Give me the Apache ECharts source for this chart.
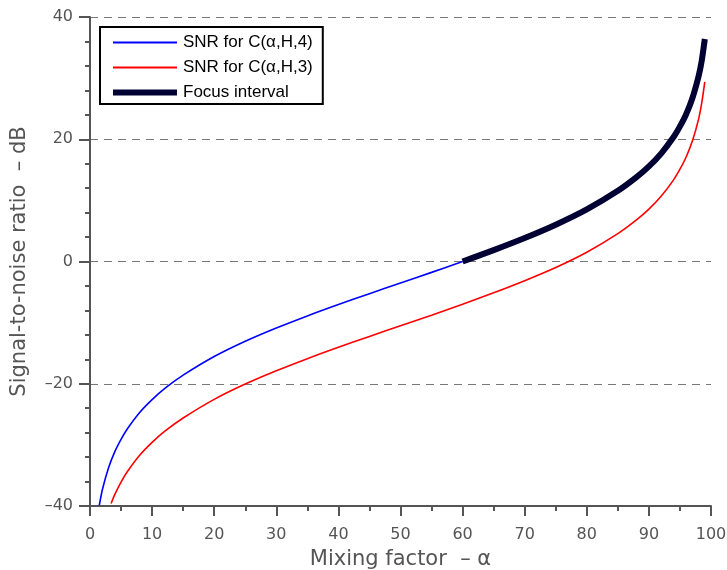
<!DOCTYPE html>
<html>
<head>
<meta charset="utf-8">
<script src="https://cdn.jsdelivr.net/npm/echarts@6/dist/echarts.min.js"></script>
<style>html,body{margin:0;padding:0;background:#fff}#c{width:727px;height:570px}</style>
</head>
<body>
<div id="c"></div>
<script>
// Mixing factor (alpha, %) sample positions and SNR values (dB)
const alphaBlue = [1.5, 2, 3, 4, 5, 6, 8, 10, 12, 15, 20, 25, 30, 35, 40, 45, 50, 55, 60];
const snrBlue   = [-39.9, -37.3, -33.7, -31.1, -29.1, -27.4, -24.7, -22.6, -20.8, -18.6, -15.55, -13.05, -10.88, -8.9, -7.04, -5.26, -3.52, -1.78, 0.0];

const alphaRed = [3.4, 4, 5, 6, 8, 10, 12, 15, 20, 25, 30, 35, 40, 45, 50, 55, 60, 65, 70, 75, 80, 85, 88, 90, 92, 94, 95, 96, 97, 98, 98.5, 99];
const snrRed   = [-39.6, -38.1, -36.1, -34.4, -31.7, -29.6, -27.8, -25.6, -22.55, -20.05, -17.88, -15.9, -14.04, -12.26, -10.52, -8.78, -7.0, -5.12, -3.14, -0.98, 1.52, 4.56, 6.8, 8.56, 10.7, 13.4, 15.1, 17.1, 19.7, 23.3, 25.9, 29.4];

const alphaFocus = [60, 65, 70, 75, 80, 85, 88, 90, 92, 94, 95, 96, 97, 98, 98.5, 99];
const snrFocus   = [0.0, 1.86, 3.84, 6.02, 8.52, 11.56, 13.8, 15.56, 17.7, 20.4, 22.1, 24.1, 26.7, 30.3, 32.8, 36.4];

const seriesNames = ['SNR for C(\u03b1,H,4)', 'SNR for C(\u03b1,H,3)', 'Focus interval'];
const xTicks = [0, 10, 20, 30, 40, 50, 60, 70, 80, 90, 100];
const yTicks = [-40, -20, 0, 20, 40];

const zip = (xs, ys) => xs.map((x, i) => [x, ys[i]]);
const axisColor = '#555';
const labelFont = 'DejaVu Sans';

const chart = echarts.init(document.getElementById('c'), null, {renderer: 'canvas'});
chart.setOption({
  animation: false,
  backgroundColor: '#fff',
  grid: {left: 90, right: 16, top: 17, bottom: 64, containLabel: false, outerBoundsMode: 'none'},
  legend: {
    orient: 'vertical',
    left: 100, top: 27,
    data: [
      {name: seriesNames[0], lineStyle: {width: 2}},
      {name: seriesNames[1], lineStyle: {width: 2}},
      {name: seriesNames[2], lineStyle: {width: 6}}
    ],
    backgroundColor: '#fff',
    borderColor: '#000',
    borderWidth: 2,
    borderRadius: 0,
    padding: [7, 10, 3, 10],
    itemWidth: 64, itemHeight: 14, itemGap: 8,
    itemStyle: {opacity: 0},
    textStyle: {fontFamily: 'Liberation Sans', fontSize: 17, lineHeight: 16, color: '#000', padding: [0, 0, 0, 1]}
  },
  xAxis: {
    type: 'value', min: 0, max: 100, interval: 10,
    name: 'Mixing factor  \u2013 \u03b1', nameLocation: 'middle', nameGap: 43,
    nameTextStyle: {fontFamily: labelFont, fontSize: 21, color: axisColor},
    axisLine: {onZero: false, lineStyle: {color: axisColor, width: 2}},
    axisTick: {show: true, length: 10, lineStyle: {color: axisColor, width: 2}},
    minorTick: {show: true, splitNumber: 2, length: 5, lineStyle: {color: axisColor, width: 2}},
    axisLabel: {fontFamily: labelFont, fontSize: 16, color: axisColor, margin: 21,
      formatter: v => xTicks.includes(v) ? String(v) : ''},
    splitLine: {show: false}
  },
  yAxis: {
    type: 'value', min: -40, max: 40, interval: 20,
    name: 'Signal-to-noise ratio  \u2013 dB', nameLocation: 'middle', nameGap: 60,
    nameTextStyle: {fontFamily: labelFont, fontSize: 21, color: axisColor},
    axisLine: {show: true, onZero: false, lineStyle: {color: axisColor, width: 2}},
    axisTick: {show: true, length: 11, lineStyle: {color: axisColor, width: 2}},
    minorTick: {show: true, splitNumber: 5, length: 5, lineStyle: {color: axisColor, width: 2}},
    axisLabel: {fontFamily: labelFont, fontSize: 16, color: axisColor, margin: 17,
      formatter: v => yTicks.includes(v) ? (v < 0 ? '\u2013' + Math.abs(v) : String(v)) : ''},
    splitLine: {show: true, lineStyle: {color: '#777', width: 1.2, type: [8, 6]}}
  },
  series: [
    {name: seriesNames[0], type: 'line', data: zip(alphaBlue, snrBlue), showSymbol: false, symbol: 'none',
     smooth: 0.3, lineStyle: {color: '#0000ff', width: 1.6}, itemStyle: {color: '#0000ff', opacity: 0}, z: 3},
    {name: seriesNames[1], type: 'line', data: zip(alphaRed, snrRed), showSymbol: false, symbol: 'none',
     smooth: 0.3, lineStyle: {color: '#ff0000', width: 1.6}, itemStyle: {color: '#ff0000', opacity: 0}, z: 3},
    {name: seriesNames[2], type: 'line', data: zip(alphaFocus, snrFocus), showSymbol: false, symbol: 'none',
     smooth: 0.3, lineStyle: {color: '#000033', width: 6, cap: 'butt'}, itemStyle: {color: '#000033', opacity: 0}, z: 4}
  ]
});
</script>
</body>
</html>
